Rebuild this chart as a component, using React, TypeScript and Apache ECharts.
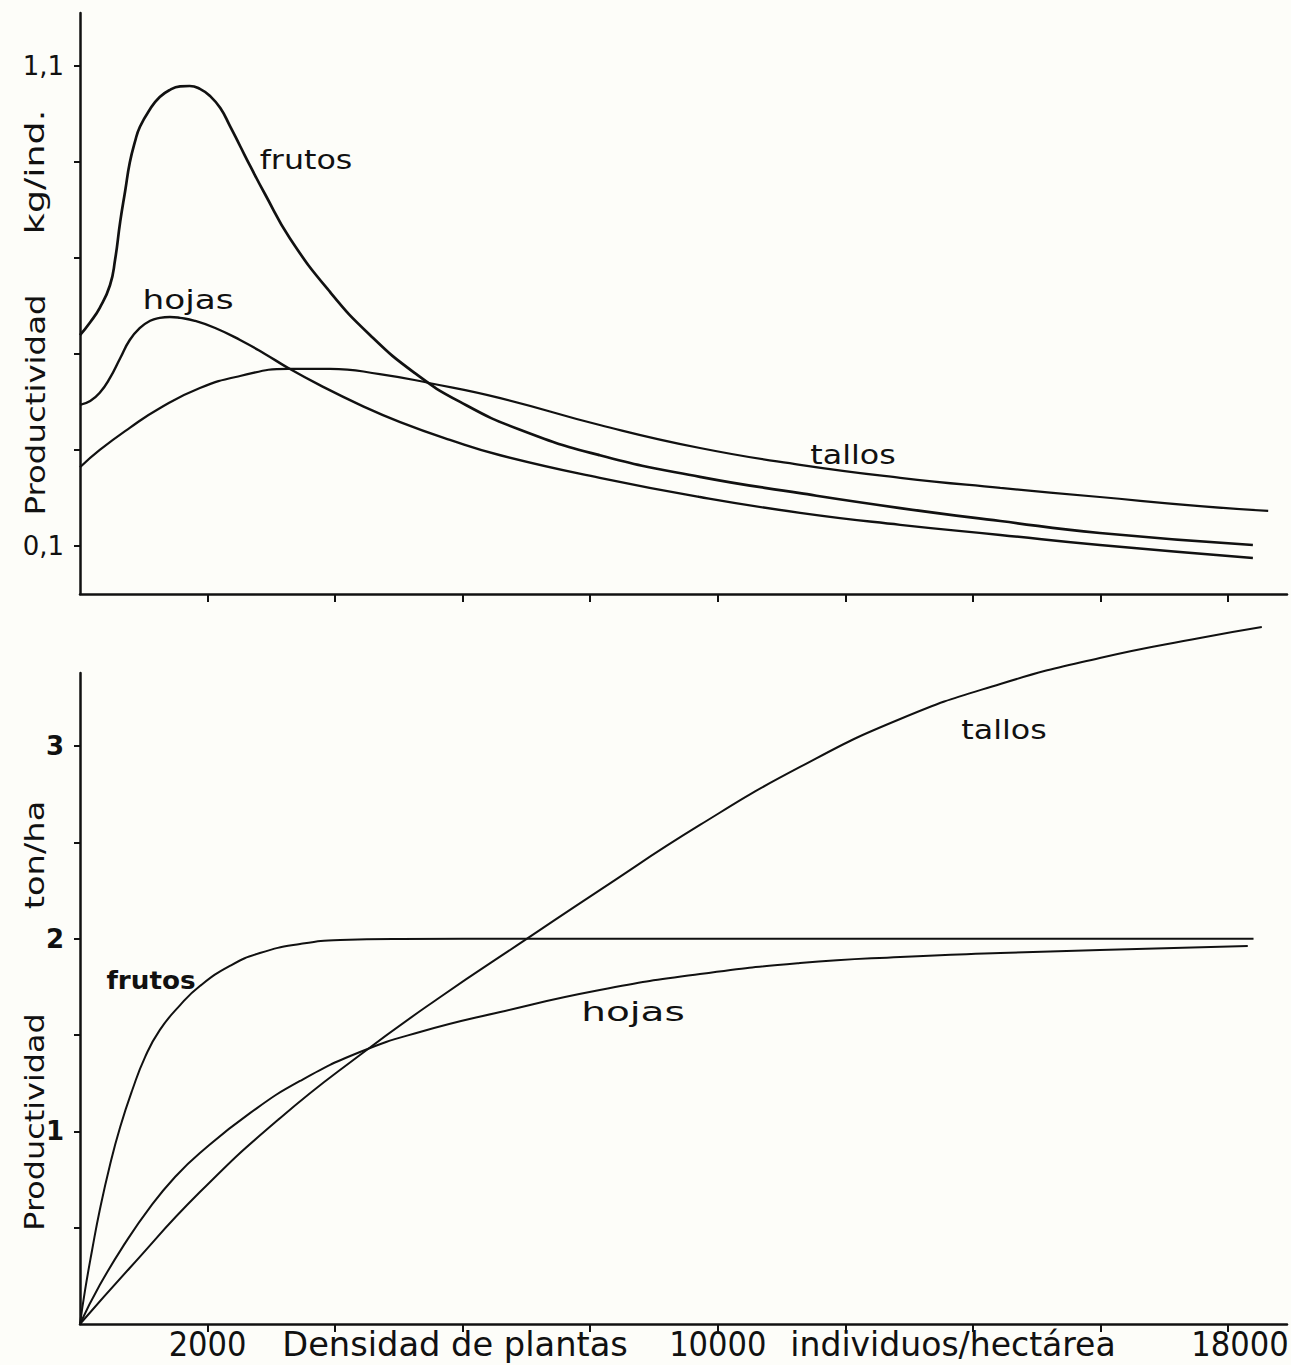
import React, { useEffect, useRef } from "react";
import * as echarts from "echarts";

// ---- axis ticks / labels ----
const xTickValues = [2000, 4000, 6000, 8000, 10000, 12000, 14000, 16000, 18000];
const xLabelValues = [2000, 10000, 18000];
const kgTickValues = [0.1, 0.3, 0.5, 0.7, 0.9, 1.1];
const kgLabelValues = [0.1, 1.1];
const tonTickValues = [0.5, 1, 1.5, 2, 2.5, 3];
const tonLabelValues = [1, 2, 3];

// ---- top panel: kg / individuo ----
const frutosKgX = [0, 160, 310, 470, 550, 630, 710, 780, 860, 940, 1100, 1250, 1410, 1570, 1720, 1880, 2040, 2200, 2350, 2510, 2670, 2900, 3290, 3920, 4550, 5250, 5960, 6900, 8150, 9720, 11290, 12860, 14430, 15990, 18390];
const frutosKgY = [0.539, 0.566, 0.596, 0.643, 0.696, 0.775, 0.841, 0.898, 0.941, 0.973, 1.01, 1.035, 1.05, 1.057, 1.058, 1.052, 1.037, 1.012, 0.975, 0.933, 0.891, 0.833, 0.741, 0.629, 0.539, 0.46, 0.4, 0.342, 0.289, 0.244, 0.21, 0.179, 0.152, 0.127, 0.102];

const hojasKgX = [0, 160, 310, 470, 630, 780, 940, 1100, 1250, 1410, 1570, 1800, 2120, 2510, 2900, 3260, 3760, 4390, 5020, 5800, 6590, 8150, 9720, 11290, 12860, 14430, 15990, 18390];
const hojasKgY = [0.394, 0.402, 0.419, 0.45, 0.491, 0.529, 0.554, 0.569, 0.575, 0.577, 0.575, 0.569, 0.554, 0.529, 0.5, 0.471, 0.435, 0.394, 0.358, 0.321, 0.289, 0.242, 0.202, 0.169, 0.144, 0.123, 0.102, 0.075];

const tallosKgX = [0, 310, 780, 1250, 1880, 2510, 3260, 3920, 4700, 5490, 6590, 8150, 9720, 11290, 12860, 14430, 15990, 17560, 18630];
const tallosKgY = [0.264, 0.3, 0.346, 0.387, 0.429, 0.454, 0.469, 0.469, 0.458, 0.439, 0.408, 0.352, 0.304, 0.269, 0.242, 0.221, 0.202, 0.183, 0.173];

// ---- bottom panel: ton / ha ----
const frutosTonX = [0, 80, 190, 310, 470, 630, 820, 1020, 1250, 1570, 1880, 2350, 2820, 3450, 4080, 5020, 7000, 10000, 14000, 18400];
const frutosTonY = [0, 0.177, 0.384, 0.592, 0.826, 1.023, 1.215, 1.386, 1.526, 1.656, 1.755, 1.859, 1.926, 1.973, 1.994, 1.999, 2.0, 2.0, 2.0, 2.0];

const hojasTonX = [0, 310, 710, 1100, 1490, 1880, 2670, 3450, 4390, 5330, 6590, 8150, 9720, 11290, 12860, 14430, 15990, 18310];
const hojasTonY = [0, 0.202, 0.421, 0.607, 0.763, 0.888, 1.096, 1.262, 1.412, 1.516, 1.62, 1.734, 1.817, 1.874, 1.906, 1.926, 1.942, 1.963];

const tallosTonX = [0, 780, 1880, 3140, 4390, 5650, 6980, 8150, 9720, 11290, 12860, 14430, 15990, 17560, 18530];
const tallosTonY = [0, 0.291, 0.685, 1.07, 1.397, 1.698, 1.994, 2.253, 2.591, 2.892, 3.141, 3.323, 3.458, 3.562, 3.619];

const INK = "#111111";
const ROUND = "'DejaVu Sans', 'Open Sans', sans-serif";
const NARROW = "'Liberation Sans Narrow', 'DejaVu Sans Condensed', 'Roboto Condensed', 'Liberation Sans', sans-serif";

const pairs = (xs: number[], ys: number[]) => xs.map((x, i) => [x, ys[i]]);

function lineSeries(xs: number[], ys: number[], axis: number, width: number) {
  return {
    type: "line",
    xAxisIndex: axis,
    yAxisIndex: axis,
    data: pairs(xs, ys),
    smooth: 0.5,
    symbol: "none",
    clip: false,
    lineStyle: { color: INK, width },
    silent: true,
  };
}

function label(text: string, x: number, y: number, size: number, sx: number, bold = false, rot = 0) {
  return {
    type: "text",
    x,
    y,
    rotation: rot,
    scaleX: sx,
    style: {
      text,
      fill: INK,
      font: `${bold ? "bold " : ""}${size}px ${ROUND}`,
      align: "center",
      verticalAlign: "middle",
    },
  };
}

export default function App() {
  const ref = useRef<HTMLDivElement>(null);
  useEffect(() => {
    if (!ref.current) return;
    const chart = echarts.init(ref.current, undefined, { renderer: "svg" });
    const axisLine = { show: true, lineStyle: { color: INK, width: 2.5 } };
    const xAxisBase = {
      type: "value",
      min: 0,
      max: 18925,
      axisLine: { ...axisLine, onZero: false },
      splitLine: { show: false },
      axisTick: {
        show: true,
        inside: false,
        length: 8,
        customValues: xTickValues,
        lineStyle: { color: INK, width: 2 },
      },
    };
    const option = {
      animation: false,
      backgroundColor: "#fdfdf9",
      grid: [
        { left: 80, top: 13, width: 1207, height: 581, containLabel: false, outerBoundsMode: "none" },
        { left: 80, top: 673, width: 1207, height: 651, containLabel: false, outerBoundsMode: "none" },
      ],
      xAxis: [
        { ...xAxisBase, gridIndex: 0, axisLabel: { show: false } },
        {
          ...xAxisBase,
          gridIndex: 1,
          axisLabel: {
            show: true,
            customValues: xLabelValues,
            margin: 3,
            color: INK,
            fontFamily: NARROW,
            fontSize: 34,
            formatter: (v: number) => (v === 18000 ? `{r|${v}}` : `{n|${v}}`),
            rich: {
              n: { fontFamily: NARROW, fontSize: 34, color: INK },
              r: { fontFamily: NARROW, fontSize: 34, color: INK, padding: [0, 0, 0, 24] },
            },
          },
        },
      ],
      yAxis: [
        {
          type: "value",
          gridIndex: 0,
          min: 0,
          max: 1.21,
          axisLine: axisLine,
          splitLine: { show: false },
          axisTick: {
            show: true,
            length: 6,
            customValues: kgTickValues,
            lineStyle: { color: INK, width: 2 },
          },
          axisLabel: {
            show: true,
            customValues: kgLabelValues,
            margin: 16,
            color: INK,
            fontFamily: ROUND,
            fontSize: 26,
            formatter: (v: number) => v.toFixed(1).replace(".", ","),
          },
        },
        {
          type: "value",
          gridIndex: 1,
          min: 0,
          max: 3.38,
          axisLine: axisLine,
          splitLine: { show: false },
          axisTick: {
            show: true,
            length: 6,
            customValues: tonTickValues,
            lineStyle: { color: INK, width: 2 },
          },
          axisLabel: {
            show: true,
            customValues: tonLabelValues,
            margin: 16,
            color: INK,
            fontFamily: ROUND,
            fontWeight: "bold",
            fontSize: 26,
            formatter: (v: number) => String(v),
          },
        },
      ],
      series: [
        lineSeries(frutosKgX, frutosKgY, 0, 2.7),
        lineSeries(hojasKgX, hojasKgY, 0, 2.4),
        lineSeries(tallosKgX, tallosKgY, 0, 2.2),
        lineSeries(frutosTonX, frutosTonY, 1, 2.0),
        lineSeries(hojasTonX, hojasTonY, 1, 2.0),
        lineSeries(tallosTonX, tallosTonY, 1, 2.0),
      ],
      graphic: [
        // axis titles (vertical)
        label("Productividad", 35, 405, 27, 1.2, false, Math.PI / 2),
        label("kg/ind.", 35, 172, 27, 1.35, false, Math.PI / 2),
        label("Productividad", 35, 1122, 27, 1.18, false, Math.PI / 2),
        label("ton/ha", 35, 855, 27, 1.25, false, Math.PI / 2),
        // curve labels
        label("frutos", 306, 160, 26, 1.22),
        label("hojas", 188, 300, 26, 1.32),
        label("tallos", 853, 455, 26, 1.22),
        label("tallos", 1004, 730, 26, 1.22),
        label("frutos", 151, 980, 25, 1.05, true),
        label("hojas", 633, 1012, 26, 1.5),
        // x axis title pieces
        {
          type: "text",
          x: 455,
          y: 1344,
          scaleX: 1.1,
          style: { text: "Densidad de plantas", fill: INK, font: `34px ${NARROW}`, align: "center", verticalAlign: "middle" },
        },
        {
          type: "text",
          x: 953,
          y: 1344,
          scaleX: 1.08,
          style: { text: "individuos/hectárea", fill: INK, font: `34px ${NARROW}`, align: "center", verticalAlign: "middle" },
        },
      ],
    };
    chart.setOption(option as any);
    return () => chart.dispose();
  }, []);
  return (
    <div
      ref={ref}
      style={{ position: "fixed", left: 0, top: 0, width: 1291, height: 1365 }}
    />
  );
}
